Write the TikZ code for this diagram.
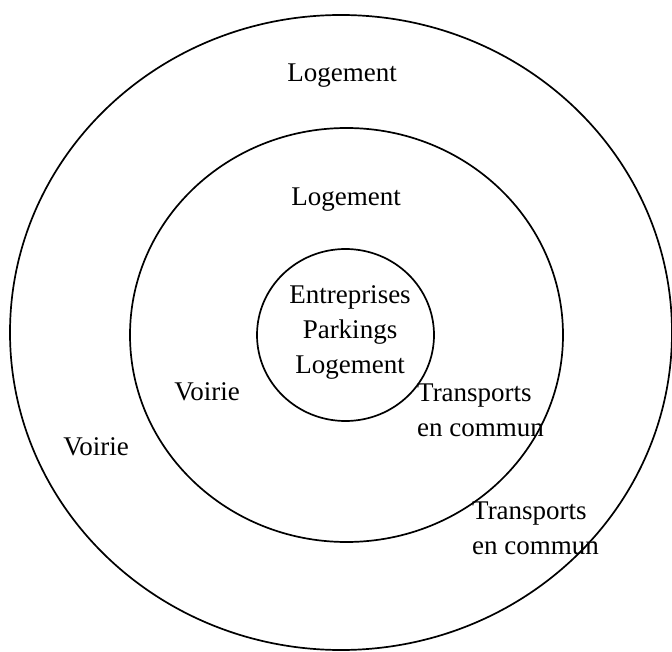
\documentclass[tikz,border=0pt]{standalone}
\usepackage{fontspec}
\setmainfont{Liberation Serif}
\begin{document}
\begin{tikzpicture}[x=1pt,y=-1pt,
  ring/.style={draw=black,line width=1.7pt},
  lbl/.style={font=\fontsize{27}{35}\selectfont,inner sep=0pt,text=black},
  multi/.style={lbl,align=left},
  centred/.style={lbl,align=center}]
\useasboundingbox[fill=white] (0,0) rectangle (672,652);

% three concentric zones
\draw[ring] (341,332.5) ellipse [x radius=331pt, y radius=317.5pt];
\draw[ring] (346.5,335) ellipse [x radius=216.5pt, y radius=207pt];
\draw[ring] (345.5,335) ellipse [x radius=88.5pt, y radius=86pt];

% centre
\node[centred] (centre) at (350,332) {Entreprises\\Parkings\\Logement};

% middle ring
\node[lbl] (logmid) at (346,200) {Logement};
\node[lbl] (voirmid) at (207,392) {Voirie};
\node[multi,anchor=west] (tcmid) at (417,410) {Transports\\en commun};

% outer ring
\node[lbl] (logout) at (342,76) {Logement};
\node[lbl] (voirout) at (96,447) {Voirie};
\node[multi,anchor=west] (tcout) at (472,528) {Transports\\en commun};
\end{tikzpicture}
\end{document}
